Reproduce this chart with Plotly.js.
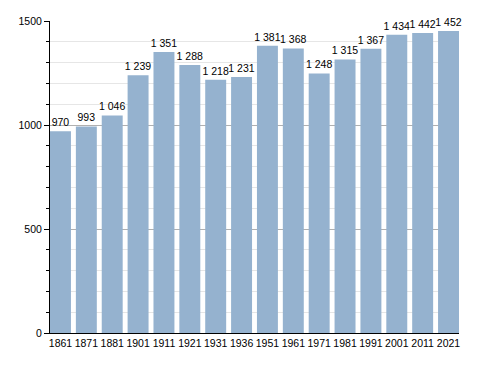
<!DOCTYPE html>
<html>
<head>
<meta charset="utf-8">
<script src="https://cdn.plot.ly/plotly-3.0.1.min.js"></script>
<style>html,body{margin:0;padding:0;background:#fff;}#chart{width:488px;height:373px;}</style>
</head>
<body>
<div id="chart"></div>
<script>
const years = ["1861","1871","1881","1901","1911","1921","1931","1936","1951","1961","1971","1981","1991","2001","2011","2021"];
const population = [970, 993, 1046, 1239, 1351, 1288, 1218, 1231, 1381, 1368, 1248, 1315, 1367, 1434, 1442, 1452];
const yTicks = [0, 500, 1000, 1500];

function fmt(v){ return String(v).replace(/\B(?=(\d{3})+(?!\d))/g, " "); }
const idx = years.map((_, i) => i);
const labels = population.map(fmt);
const FONT = "Liberation Sans, Arial, sans-serif";

const trace = {
  type: "bar",
  x: idx,
  y: population,
  width: 0.81,
  marker: {color: "#95b2cf", line: {width: 0}},
  text: labels,
  textposition: "outside",
  textfont: {family: FONT, size: 10.5, color: "#000"},
  constraintext: "none",
  cliponaxis: false,
  hoverinfo: "none"
};

const layout = {
  width: 488, height: 373,
  margin: {l: 50, r: 29, t: 21, b: 40},
  paper_bgcolor: "#fff", plot_bgcolor: "#fff",
  showlegend: false,
  font: {family: FONT, size: 10.5, color: "#000"},
  xaxis: {
    range: [-0.405, 15.405],
    tickmode: "array", tickvals: idx, ticktext: years,
    tickangle: 0,
    ticks: "", showgrid: false, zeroline: false,
    showline: true, linecolor: "#000", linewidth: 1,
    tickfont: {family: FONT, size: 10.5, color: "#000"}
  },
  yaxis: {
    range: [0, 1500],
    tickmode: "array", tickvals: yTicks, ticktext: yTicks.map(String),
    ticks: "outside", ticklen: 5, tickcolor: "#000", tickwidth: 1,
    showline: true, linecolor: "#000", linewidth: 1,
    showgrid: true, gridcolor: "#b0b0b0", gridwidth: 1,
    zeroline: false,
    tickfont: {family: FONT, size: 10.5, color: "#000"},
    minor: {dtick: 100, tick0: 0, ticks: "outside", ticklen: 3, tickcolor: "#000", showgrid: true, gridcolor: "#e6e6e6", gridwidth: 1}
  }
};

Plotly.newPlot("chart", [trace], layout, {staticPlot: true, displayModeBar: false});
</script>
</body>
</html>
